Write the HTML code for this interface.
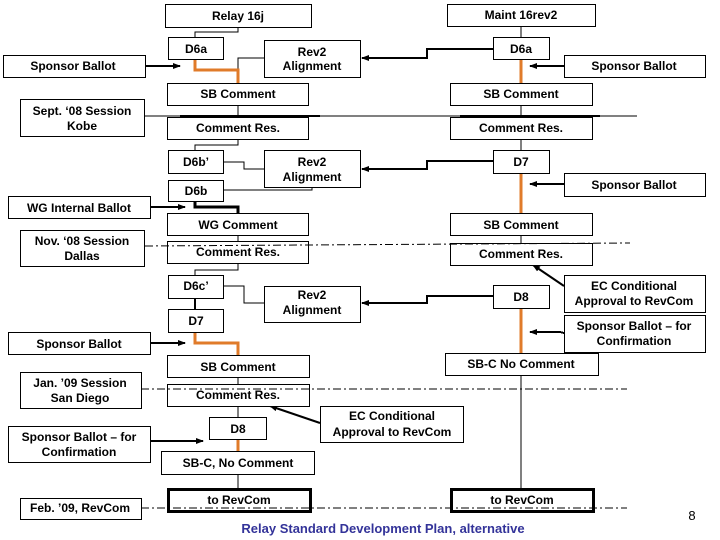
<!DOCTYPE html>
<html><head><meta charset="utf-8"><style>
body{margin:0;background:#fff}
svg{display:block}
text{font-family:"Liberation Sans",Arial,sans-serif;font-size:12px;font-weight:bold;fill:#000;text-anchor:middle}
</style></head><body>
<svg width="720" height="540" viewBox="0 0 720 540" xmlns="http://www.w3.org/2000/svg">
<defs><marker id="a" markerWidth="8" markerHeight="8" refX="7" refY="4" orient="auto" markerUnits="userSpaceOnUse"><path d="M0,1 L8,4 L0,7 z" fill="#000"/></marker></defs>
<g fill="none" stroke="#000" stroke-width="1" shape-rendering="crispEdges">
<!-- left connectors -->
<polyline points="238,27 238,32 195,32 195,37"/>
<polyline points="238,83 238,58 264,58"/>
<line x1="238" y1="105" x2="238" y2="117"/>
<polyline points="238,139 238,145 195,145 195,150"/>
<polyline points="223,162 244,162 244,169 264,169"/>
<polyline points="223,190 312,190 312,187"/>
<polyline points="195,201 195,207 238,207 238,213" stroke-width="3"/>
<line x1="238" y1="235" x2="238" y2="241"/>
<polyline points="238,263 238,270 195,270 195,275"/>
<polyline points="223,286 244,286 244,303 264,303"/>
<line x1="195" y1="298" x2="195" y2="309" stroke-width="2"/>
<line x1="238" y1="377" x2="238" y2="384"/>
<line x1="238" y1="406" x2="238" y2="417"/>
<line x1="238" y1="474" x2="238" y2="489"/>
<!-- right connectors -->
<line x1="521" y1="26" x2="521" y2="37"/>
<line x1="521" y1="105" x2="521" y2="117"/>
<line x1="521" y1="139" x2="521" y2="150"/>
<line x1="521" y1="235" x2="521" y2="243"/>
<line x1="521" y1="375" x2="521" y2="489"/>
<polyline points="493,49 427,49 427,58 362,58" stroke-width="2" marker-end="url(#a)"/>
<polyline points="493,161 427,161 427,169 362,169" stroke-width="2" marker-end="url(#a)"/>
<polyline points="493,296 427,296 427,303 362,303" stroke-width="2" marker-end="url(#a)"/>
<!-- ballot arrows -->
<line x1="145" y1="66" x2="180" y2="66" stroke-width="2" marker-end="url(#a)"/>
<line x1="150" y1="207" x2="185" y2="207" stroke-width="2" marker-end="url(#a)"/>
<line x1="150" y1="343" x2="185" y2="343" stroke-width="2" marker-end="url(#a)"/>
<line x1="150" y1="441" x2="203" y2="441" stroke-width="2" marker-end="url(#a)"/>
<line x1="564" y1="66" x2="530" y2="66" stroke-width="2" marker-end="url(#a)"/>
<line x1="564" y1="184" x2="530" y2="184" stroke-width="2" marker-end="url(#a)"/>
<polyline points="564,333 560,332 530,332" stroke-width="2" marker-end="url(#a)"/>
</g>
<g fill="none" stroke="#000" stroke-width="2">
<line x1="564" y1="286" x2="533" y2="265" marker-end="url(#a)"/>
<line x1="320" y1="423" x2="270" y2="406" marker-end="url(#a)"/>
</g>
<!-- orange -->
<g fill="none" stroke="#e07b2a" stroke-width="3" shape-rendering="crispEdges">
<polyline points="195,59 195,70 238,70 238,83"/>
<polyline points="195,332 195,343 238,343 238,355"/>
<line x1="238" y1="439" x2="238" y2="451"/>
<line x1="521" y1="59" x2="521" y2="83"/>
<line x1="521" y1="173" x2="521" y2="213"/>
<line x1="521" y1="308" x2="521" y2="353"/>
</g>
<g fill="#fff" stroke="#000" stroke-width="1" shape-rendering="crispEdges">
<rect x="165.5" y="4.5" width="146" height="23"/>
<rect x="168.5" y="37.5" width="55" height="22"/>
<rect x="264.5" y="40.5" width="96" height="37"/>
<rect x="3.5" y="55.5" width="142" height="22"/>
<rect x="167.5" y="83.5" width="141" height="22"/>
<rect x="20.5" y="99.5" width="124" height="37"/>
<rect x="167.5" y="117.5" width="141" height="22"/>
<rect x="168.5" y="150.5" width="55" height="23"/>
<rect x="264.5" y="150.5" width="96" height="37"/>
<rect x="168.5" y="180.5" width="55" height="21"/>
<rect x="8.5" y="196.5" width="142" height="22"/>
<rect x="167.5" y="213.5" width="141" height="22"/>
<rect x="20.5" y="230.5" width="124" height="36"/>
<rect x="167.5" y="241.5" width="141" height="22"/>
<rect x="168.5" y="275.5" width="55" height="23"/>
<rect x="264.5" y="286.5" width="96" height="36"/>
<rect x="168.5" y="309.5" width="55" height="23"/>
<rect x="8.5" y="332.5" width="142" height="22"/>
<rect x="167.5" y="355.5" width="142" height="22"/>
<rect x="20.5" y="372.5" width="121" height="36"/>
<rect x="167.5" y="384.5" width="142" height="22"/>
<rect x="320.5" y="406.5" width="143" height="36"/>
<rect x="209.5" y="417.5" width="57" height="22"/>
<rect x="8.5" y="426.5" width="142" height="36"/>
<rect x="161.5" y="451.5" width="153" height="23"/>
<rect x="20.5" y="498.5" width="121" height="21"/>
<rect x="447.5" y="4.5" width="148" height="22"/>
<rect x="493.5" y="37.5" width="56" height="22"/>
<rect x="564.5" y="55.5" width="141" height="22"/>
<rect x="450.5" y="83.5" width="142" height="22"/>
<rect x="450.5" y="117.5" width="142" height="22"/>
<rect x="493.5" y="150.5" width="56" height="23"/>
<rect x="564.5" y="173.5" width="141" height="23"/>
<rect x="450.5" y="213.5" width="142" height="22"/>
<rect x="450.5" y="243.5" width="142" height="22"/>
<rect x="564.5" y="275.5" width="141" height="37"/>
<rect x="493.5" y="285.5" width="56" height="23"/>
<rect x="564.5" y="315.5" width="141" height="37"/>
<rect x="445.5" y="353.5" width="153" height="22"/>
</g>
<g fill="none" stroke="#000" stroke-width="3" shape-rendering="crispEdges">
<rect x="168.5" y="489.5" width="142" height="22"/>
<rect x="451.5" y="489.5" width="142" height="22"/>
</g>
<!-- session lines over boxes -->
<g fill="none" stroke="#000" stroke-width="1" shape-rendering="crispEdges">
<line x1="145" y1="116" x2="637" y2="116"/>
<line x1="180" y1="116" x2="320" y2="116" stroke-width="2"/>
<line x1="460" y1="116" x2="600" y2="116" stroke-width="2"/>
<line x1="145" y1="246" x2="630" y2="243" stroke-dasharray="8,3,2,3" shape-rendering="auto"/>
<line x1="141" y1="389" x2="627" y2="389" stroke-dasharray="8,3,2,3"/>
<line x1="141" y1="508" x2="627" y2="508" stroke-dasharray="8,3,2,3"/>
</g>
<g>
<text x="238" y="20">Relay 16j</text>
<text x="196" y="53">D6a</text>
<text x="312" y="56">Rev2</text><text x="312" y="70">Alignment</text>
<text x="73" y="70">Sponsor Ballot</text>
<text x="238" y="98">SB Comment</text>
<text x="82" y="115">Sept. ‘08 Session</text><text x="82" y="130">Kobe</text>
<text x="238" y="132">Comment Res.</text>
<text x="196" y="166">D6b’</text>
<text x="312" y="166">Rev2</text><text x="312" y="181">Alignment</text>
<text x="196" y="195">D6b</text>
<text x="79" y="212">WG Internal Ballot</text>
<text x="238" y="229">WG Comment</text>
<text x="82" y="245">Nov. ‘08 Session</text><text x="82" y="260">Dallas</text>
<text x="238" y="256">Comment Res.</text>
<text x="196" y="290">D6c’</text>
<text x="312" y="299">Rev2</text><text x="312" y="314">Alignment</text>
<text x="196" y="325">D7</text>
<text x="79" y="348">Sponsor Ballot</text>
<text x="238" y="371">SB Comment</text>
<text x="80" y="387">Jan. ’09 Session</text><text x="80" y="402">San Diego</text>
<text x="238" y="399">Comment Res.</text>
<text x="392" y="420">EC Conditional</text><text x="392" y="436">Approval to RevCom</text>
<text x="238" y="433">D8</text>
<text x="79" y="441">Sponsor Ballot – for</text><text x="79" y="456">Confirmation</text>
<text x="238" y="467">SB-C, No Comment</text>
<text x="239" y="504">to RevCom</text>
<text x="80" y="512">Feb. ’09, RevCom</text>
<text x="521" y="19">Maint 16rev2</text>
<text x="521" y="53">D6a</text>
<text x="634" y="70">Sponsor Ballot</text>
<text x="521" y="98">SB Comment</text>
<text x="521" y="132">Comment Res.</text>
<text x="521" y="166">D7</text>
<text x="634" y="189">Sponsor Ballot</text>
<text x="521" y="229">SB Comment</text>
<text x="521" y="258">Comment Res.</text>
<text x="634" y="290">EC Conditional</text><text x="634" y="305">Approval to RevCom</text>
<text x="521" y="301">D8</text>
<text x="634" y="330">Sponsor Ballot – for</text><text x="634" y="345">Confirmation</text>
<text x="521" y="368">SB-C No Comment</text>
<text x="522" y="504">to RevCom</text>
<text x="692" y="520" style="font-weight:normal;font-size:13px">8</text>
<text x="383" y="533" style="fill:#333399;font-size:13px">Relay Standard Development Plan, alternative</text>
</g>
</svg>
</body></html>
